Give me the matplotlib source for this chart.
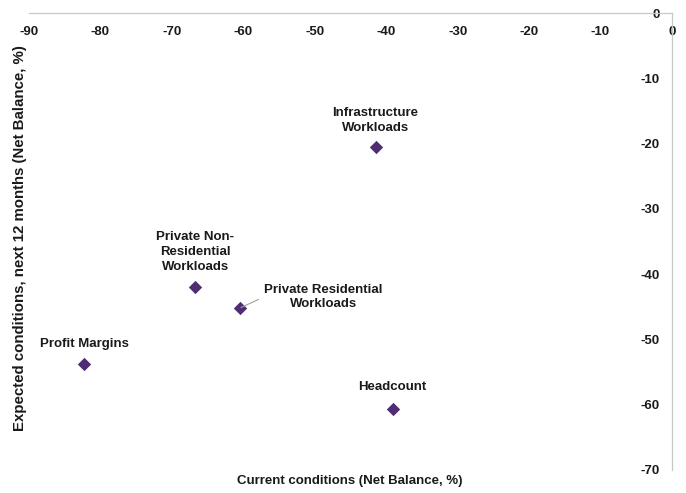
import matplotlib
matplotlib.use("Agg")
import matplotlib.pyplot as plt

plt.rcParams['font.family'] = ['Liberation Sans', 'DejaVu Sans']
plt.rcParams['font.weight'] = 'bold'
plt.rcParams['axes.unicode_minus'] = False

# data
labels = ["Infrastructure\nWorkloads", "Private Non-\nResidential\nWorkloads",
          "Private Residential\nWorkloads", "Profit Margins", "Headcount"]
current = [-41.5, -66.7, -60.5, -82.3, -39.1]
expected = [-20.5, -41.9, -45.2, -53.8, -60.7]
xticks = [-90, -80, -70, -60, -50, -40, -30, -20, -10, 0]
yticks = [0, -10, -20, -30, -40, -50, -60, -70]

txt = '#1a1a1a'
fig = plt.figure(figsize=(6.86, 4.93), dpi=100)
ax = fig.add_axes([29/686, 1-470/493, (672-29)/686, (470-13)/493])

ax.scatter(current, expected, marker='D', s=6.8**2, color='#4f2d73', zorder=3, linewidths=0)

ax.set_xlim(-90, 0)
ax.set_ylim(-70, 0)
ax.set_xticks(xticks)
ax.set_yticks(yticks)

for s in ['left', 'bottom']:
    ax.spines[s].set_visible(False)
for s in ['top', 'right']:
    ax.spines[s].set_color('#c8c8c8')
    ax.spines[s].set_linewidth(0.9)

ax.tick_params(axis='x', top=True, labeltop=True, bottom=False, labelbottom=False,
               length=0, pad=-18, labelsize=9.5, labelcolor=txt)
ax.tick_params(axis='y', right=True, labelright=True, left=False, labelleft=False,
               length=0, pad=-9, labelsize=9.5, labelcolor=txt)
for t in ax.get_yticklabels():
    t.set_ha('right')
    t.set_fontweight('bold')
for t in ax.get_xticklabels():
    t.set_fontweight('bold')

# label offsets in points
offsets = [(0, 9.5), (0, 10), (60, 8), (0, 10), (0, 11.5)]
for i, lab in enumerate(labels):
    if i == 2:
        ax.annotate(lab, (current[i], expected[i]), xytext=offsets[i],
                    textcoords='offset points', ha='center', va='center',
                    fontsize=9.5, fontweight='bold', color=txt, linespacing=1.3,
                    arrowprops=dict(arrowstyle='-', color='#a0a0a0', lw=0.8,
                                    relpos=(0, 0.5), shrinkA=2, shrinkB=1))
    else:
        ax.annotate(lab, (current[i], expected[i]), xytext=offsets[i],
                    textcoords='offset points', ha='center', va='bottom',
                    fontsize=9.5, fontweight='bold', color=txt, linespacing=1.3)

fig.text(350/686, 1-481/493, "Current conditions (Net Balance, %)", ha='center', va='center',
         fontsize=9.5, fontweight='bold', color=txt)
fig.text(20/686, 1-238/493, "Expected conditions, next 12 months (Net Balance, %)", ha='center',
         va='center', rotation=90, fontsize=10.8, fontweight='bold', color=txt)

fig.savefig("out.png", dpi=100)
